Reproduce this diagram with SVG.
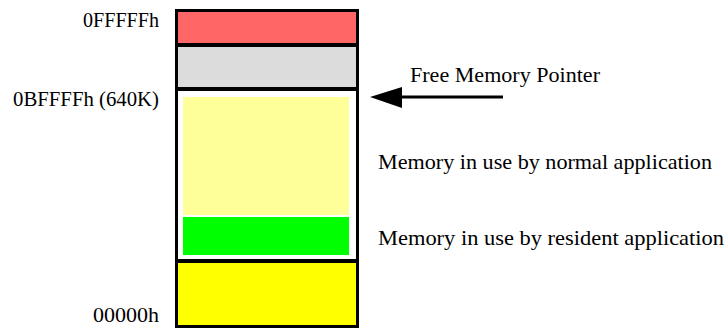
<svg xmlns="http://www.w3.org/2000/svg" width="726" height="329" viewBox="0 0 726 329">
<style>
text{font-family:"Liberation Serif","Times New Roman",serif;font-size:21px;fill:#000}
.blk{stroke:#000;stroke-width:3}
.r{text-anchor:end}
</style>
<rect width="726" height="329" fill="#fff"/>
<g id="seg-top">
<rect class="blk" x="176.5" y="10.5" width="181" height="34" fill="#ff6666"/>
</g>
<g id="seg-free">
<rect class="blk" x="176.5" y="45.5" width="181" height="43" fill="#dcdcdc"/>
</g>
<g id="seg-app">
<rect class="blk" x="176.5" y="89.5" width="181" height="171" fill="#fff"/>
<rect x="183" y="97" width="166" height="118" fill="#ffff99"/>
<rect x="183" y="217" width="166" height="38" fill="#00ff00"/>
</g>
<g id="seg-low">
<rect class="blk" x="176.5" y="261.5" width="181" height="65" fill="#ffff00"/>
</g>
<g id="labels">
<text class="r" x="159" y="27" textLength="76" lengthAdjust="spacingAndGlyphs">0FFFFFh</text>
<text class="r" x="159" y="106" textLength="146" lengthAdjust="spacingAndGlyphs">0BFFFFh (640K)</text>
<text class="r" x="159" y="322" textLength="66" lengthAdjust="spacingAndGlyphs">00000h</text>
<text x="410" y="82" textLength="190" lengthAdjust="spacingAndGlyphs">Free Memory Pointer</text>
<text x="378" y="169" textLength="334" lengthAdjust="spacingAndGlyphs">Memory in use by normal application</text>
<text x="378" y="245" textLength="346" lengthAdjust="spacingAndGlyphs">Memory in use by resident application</text>
</g>
<g id="connectors">
<line x1="503" y1="97" x2="400" y2="97" stroke="#000" stroke-width="3"/>
<polygon points="370,97 402,87 402,108" fill="#000"/>
</g>
</svg>
